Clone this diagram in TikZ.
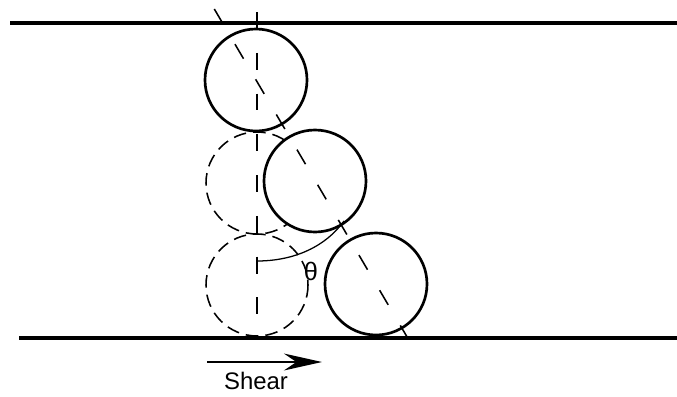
\documentclass[tikz,border=0pt]{standalone}
\usepackage{fontspec}
\setmainfont{Liberation Sans}
\usetikzlibrary{arrows.meta}
\begin{document}
\begin{tikzpicture}[x=0.025cm,y=-0.025cm,
        wall/.style={line width=3pt},
        grain/.style={line width=1.9pt,fill=white},
        ghost/.style={line width=1.1pt,dash pattern=on 9pt off 5pt},
        axis/.style={line width=1.1pt,dash pattern=on 12pt off 17pt}]
    \useasboundingbox (0,0) rectangle (677,396);
    % walls
    \draw[wall] (10,23) --(677,23);
    \draw[wall] (19,338) --(677,338);
    % starting positions
    \draw[ghost] (257,183) circle[radius=51];
    \draw[ghost] (257,285) circle[radius=51];
    % sheared positions
    \coordinate (top) at (256,80);
    \coordinate (mid) at (315,181);
    \coordinate (low) at (376,284);
    \draw[grain] (top) circle[radius=51];
    \draw[grain] (mid) circle[radius=51];
    \draw[grain] (low) circle[radius=51];
    % center lines
    \coordinate (vtop) at (257,12);
    \coordinate (vbot) at (257,338);
    \coordinate (ttop) at (214.3,9);
    \coordinate (tbot) at (407.7,338);
    \draw[axis] (vtop) --(vbot);
    \draw[axis] (ttop) --(tbot);
    % angle
    \draw[line width=0.9pt] (257,261) .. controls (295,261) and (326,246) .. (344,221);
    \node (theta) at (311,271) {\fontsize{18}{20}\selectfont θ};
    % shear direction
    \coordinate (sfrom) at (207,362);
    \coordinate (sto) at (322,362);
    \draw[line width=1.8pt,-{Stealth[length=27pt,width=12pt]}] (sfrom) --(sto);
    \node (shear) at (256,381) {\fontsize{17}{19}\selectfont Shear};
\end{tikzpicture}
\end{document}
